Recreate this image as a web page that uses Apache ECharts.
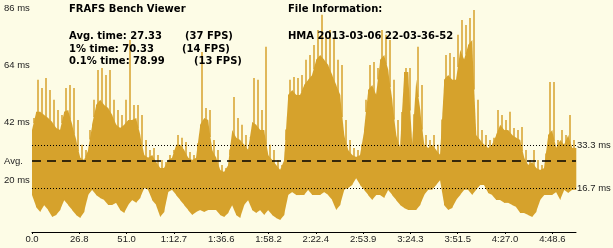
<!DOCTYPE html>
<html>
<head>
<meta charset="utf-8">
<script src="https://cdn.jsdelivr.net/npm/echarts@6/dist/echarts.min.js"></script>
<style>
html,body{margin:0;padding:0;background:#FDFCE6;}
#chart{width:613px;height:248px;}
</style>
</head>
<body>
<div id="chart"></div>
<script>
// ---- data ----
const tickLabels = ['0.0','26.8','51.0','1:12.7','1:36.6','1:58.2','2:22.4','2:53.9','3:24.3','3:51.5','4:27.0','4:48.6'];
const yLabelValues = [20, 42, 64, 86];
const avgTime = 27.33;
const refHigh = 33.3;
const refLow = 16.7;

// frame-time envelope per screen column (ms): spike peak, dense band top, band bottom
const peakMs = [43.8,58.5,55.4,59.2,54.6,50.8,46.9,45,55.4,56.5,55.4,43.1,33.5,31.5,39.2,50.8,62.3,63.1,60.4,62.3,
50.8,46.9,45,50.8,73.8,48.8,48.8,45,35.4,31.5,32.3,29.6,27.7,26.9,29.6,31.5,37.3,36.2,34.6,30.8,
29.6,31.5,69.2,47.7,46.9,35.4,31.5,25.8,24.6,29.6,51.9,43.8,41.2,37.3,36.2,59.2,58.5,46.9,71.2,33.5,
31.5,27.7,25.8,35.4,58.5,59.6,59.2,60.4,66.2,68.1,71.9,77.7,83.5,75.8,77.7,74.6,66.2,64.2,43.1,35.4,
32.3,31.5,32.3,50.8,64.2,65.4,63.1,77.7,75.8,73.8,58.5,43.1,35.4,63.1,63.1,37.3,71.2,56.5,37.3,35.4,
37.3,33.5,31.5,68.1,68.8,67.3,75.8,81.5,79.6,82.3,85.4,50.8,39.2,37.3,35.4,36.2,46.9,45,43.1,46.2,
40,39.2,40.4,31.5,27.7,31.5,27.7,25.8,27.7,57.7,57.7,35.4,39.2,37.3,45,35.4];
const coreMs = [39.2,46.2,46.2,45,43.8,42.3,40,39.2,46.2,46.9,41.2,35.4,28.5,27.7,31.5,41.2,48.8,50.8,48.8,47.7,
45,41.2,40,41.2,43.1,43.1,43.8,37.3,29.6,28.5,29.6,26.9,24.6,24.6,27.7,28.5,33.5,33.5,31.5,28.5,
27.7,28.5,41.2,43.8,43.1,31.5,28.5,23.8,23.1,25.8,39.2,36.2,35.4,33.5,31.5,42.3,41.2,39.2,39.2,29.6,
27.7,25.8,23.8,27.7,52.7,54.6,52.7,52.7,56.5,58.5,60.4,66.2,68.1,66.2,64.2,60.4,56.5,52.7,37.3,31.5,
29.6,28.8,29.6,39.2,54.6,56.5,52.7,66.2,68.1,62.3,50.8,37.3,32.3,61.5,61.5,33.5,58.5,46.9,33.5,32.3,
33.5,31.5,29.6,58.5,60.4,58.5,58.5,70,66.2,71.9,73.8,37.3,35.4,33.5,32.3,33.5,37.3,41.2,39.2,39.2,
37.3,36.2,35.4,28.5,25.8,26.9,24.6,23.8,24.6,37.3,39.2,32.3,35.4,33.5,37.3,32.3];
const lowMs = [14.2,9.6,7.7,10.4,8.5,5.8,6.5,8.5,12.3,10.4,8.5,6.5,5.4,7.7,14.2,16.2,14.2,13.1,12.3,10.4,
10.4,11.2,8.5,7.3,10.4,12.3,11.2,13.1,16.9,16.2,12.3,10.4,5.8,7.7,15.4,16.2,14.2,12.3,10.4,8.5,
6.5,7.7,8.5,7.7,8.5,8.5,8.5,6.5,5.8,7.3,10.4,6.5,5.4,10.4,12.3,8.5,7.3,8.5,6.5,8.5,
6.5,5.4,4.6,6.5,14.2,15.4,14.2,14.2,14.2,16.2,14.2,14.2,14.2,15.4,14.2,12.3,8.5,10.4,16.2,16.9,
18.1,20.8,18.1,16.2,14.2,12.3,14.2,14.2,13.1,16.2,14.2,12.3,10.4,9.2,8.5,8.5,8.5,10.4,14.2,16.2,
16.2,18.1,20,10.4,8.5,9.2,12.3,14.2,16.2,16.2,14.2,16.2,18.1,18.1,15,14.2,12.3,12.3,11.2,11.2,
10.4,9.6,7.3,7.3,6.5,5.8,7.7,12.3,14.2,14.2,14.2,15.4,12.3,16.2,15,16.2];

// ---- chart ----
const xMax = 11.5;            // x axis span in tick intervals
const yMax = 89.2;
const colStep = xMax / lowMs.length;
const barColor = '#D6A22C';
const n = lowMs.length;
// each item: column start x, its low/core/peak, and the next column's low/core (to join the band)
const bandData = lowMs.map((lo, i) => {
  const j = Math.min(i + 1, n - 1);
  return [i * colStep, lo, coreMs[i], peakMs[i], lowMs[j], coreMs[j]];
});
const lblFont = {color: '#222', fontFamily: 'Liberation Sans', fontSize: 9.5};

const chart = echarts.init(document.getElementById('chart'), null, {renderer: 'canvas'});
const hdrFont = 'bold 10px "DejaVu Sans"';
chart.setOption({
  backgroundColor: '#FDFCE6',
  animation: false,
  grid: {left: 32, right: 37, top: 0, bottom: 16},
  xAxis: {
    type: 'value', min: 0, max: xMax,
    axisLine: {show: true, lineStyle: {color: '#000', width: 1}},
    axisTick: {show: true, length: 2, customValues: tickLabels.map((_, i) => i), lineStyle: {color: '#000'}},
    axisLabel: Object.assign({
      customValues: tickLabels.map((_, i) => i),
      formatter: v => tickLabels[Math.round(v)] || '',
      margin: 2
    }, lblFont),
    splitLine: {show: false}
  },
  yAxis: {
    type: 'value', min: 0, max: yMax,
    axisLine: {show: false}, axisTick: {show: false}, splitLine: {show: false},
    axisLabel: Object.assign({
      customValues: yLabelValues.concat([avgTime]),
      formatter: v => (Math.abs(v - avgTime) < 0.01 ? 'Avg.' : v + ' ms'),
      align: 'left', margin: 28
    }, lblFont)
  },
  series: [{
    type: 'custom',
    data: bandData,
    encode: {x: 0, y: [1, 2, 3]},
    silent: true,
    renderItem: function (params, api) {
      const x0 = api.value(0);
      const x1 = x0 + colStep;
      const xm = x0 + colStep / 2;
      const a = api.coord([x0, api.value(1)]);
      const b = api.coord([x0, api.value(2)]);
      const c = api.coord([x1, api.value(5)]);
      const d = api.coord([x1, api.value(4)]);
      const pk = api.coord([xm, api.value(3)]);
      const mid = api.coord([xm, (api.value(2) + api.value(5)) / 2]);
      return {
        type: 'group',
        children: [
          {type: 'polygon', shape: {points: [[a[0], a[1]], [b[0], b[1]], [c[0] + 0.3, c[1]], [d[0] + 0.3, d[1]]]},
            style: {fill: barColor}},
          {type: 'line', shape: {x1: pk[0], y1: pk[1], x2: mid[0], y2: mid[1] + 2},
            style: {stroke: barColor, lineWidth: 1.5}}
        ]
      };
    },
    markLine: {
      silent: true, symbol: 'none', animation: false,
      data: [
        {yAxis: refHigh, lineStyle: {type: [1, 2], color: '#000', width: 1},
          label: Object.assign({show: true, position: 'end', distance: 1, formatter: refHigh + ' ms'}, lblFont)},
        {yAxis: refLow, lineStyle: {type: [1, 2], color: '#000', width: 1},
          label: Object.assign({show: true, position: 'end', distance: 1, formatter: refLow + ' ms'}, lblFont)},
        {yAxis: avgTime, lineStyle: {type: [9, 6], color: '#000', width: 1.5}, label: {show: false}}
      ]
    }
  }],
  graphic: [
    {type: 'text', left: 69, top: 4, z: 100, style: {text: 'FRAFS Bench Viewer', font: hdrFont, fill: '#000'}},
    {type: 'text', left: 69, top: 31, z: 100, style: {text: 'Avg. time: 27.33', font: hdrFont, fill: '#000'}},
    {type: 'text', left: 185, top: 31, z: 100, style: {text: '(37 FPS)', font: hdrFont, fill: '#000'}},
    {type: 'text', left: 69, top: 44, z: 100, style: {text: '1% time: 70.33', font: hdrFont, fill: '#000'}},
    {type: 'text', left: 182, top: 44, z: 100, style: {text: '(14 FPS)', font: hdrFont, fill: '#000'}},
    {type: 'text', left: 69, top: 56, z: 100, style: {text: '0.1% time: 78.99', font: hdrFont, fill: '#000'}},
    {type: 'text', left: 194, top: 56, z: 100, style: {text: '(13 FPS)', font: hdrFont, fill: '#000'}},
    {type: 'text', left: 288, top: 4, z: 100, style: {text: 'File Information:', font: hdrFont, fill: '#000'}},
    {type: 'text', left: 288, top: 31, z: 100, style: {text: 'HMA 2013-03-06 22-03-36-52', font: hdrFont, fill: '#000'}}
  ]
});
</script>
</body>
</html>
